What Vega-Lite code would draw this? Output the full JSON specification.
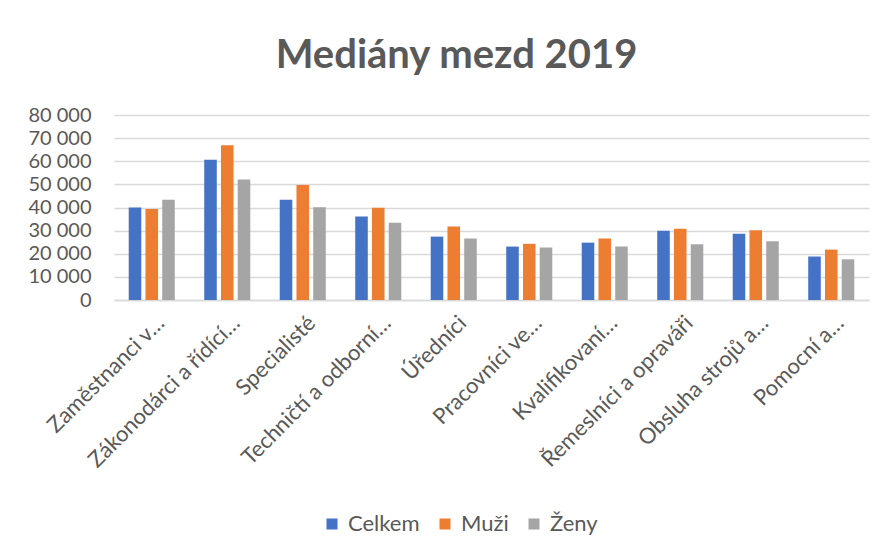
{
  "$schema": "https://vega.github.io/schema/vega-lite/v6.json",
  "autosize": {"type": "none"},
  "width": 755,
  "height": 185,
  "padding": {"left": 114, "top": 115, "right": 16, "bottom": 253},
  "background": "white",
  "config": {
    "font": "Lato",
    "view": {"stroke": null},
    "locale": {"number": {"decimal": ",", "thousands": " ", "grouping": [3], "currency": ["", " Kč"]}}
  },
  "title": {
    "text": "Mediány mezd 2019",
    "font": "Lato",
    "fontSize": 40,
    "fontWeight": "bold",
    "color": "#595959",
    "anchor": "middle",
    "baseline": "alphabetic",
    "offset": 1,
    "dy": 4,
    "dx": -35
  },
  "data": {
    "values": [
      {"kategorie": "Zaměstnanci v…", "serie": "Celkem", "hodnota": 40000},
      {"kategorie": "Zaměstnanci v…", "serie": "Muži", "hodnota": 39300},
      {"kategorie": "Zaměstnanci v…", "serie": "Ženy", "hodnota": 43300},
      {"kategorie": "Zákonodárci a řídící…", "serie": "Celkem", "hodnota": 60600},
      {"kategorie": "Zákonodárci a řídící…", "serie": "Muži", "hodnota": 66900},
      {"kategorie": "Zákonodárci a řídící…", "serie": "Ženy", "hodnota": 52100},
      {"kategorie": "Specialisté", "serie": "Celkem", "hodnota": 43300},
      {"kategorie": "Specialisté", "serie": "Muži", "hodnota": 49700},
      {"kategorie": "Specialisté", "serie": "Ženy", "hodnota": 40100},
      {"kategorie": "Techničtí a odborní…", "serie": "Celkem", "hodnota": 36100},
      {"kategorie": "Techničtí a odborní…", "serie": "Muži", "hodnota": 39900},
      {"kategorie": "Techničtí a odborní…", "serie": "Ženy", "hodnota": 33400},
      {"kategorie": "Úředníci", "serie": "Celkem", "hodnota": 27400},
      {"kategorie": "Úředníci", "serie": "Muži", "hodnota": 31800},
      {"kategorie": "Úředníci", "serie": "Ženy", "hodnota": 26600},
      {"kategorie": "Pracovníci ve…", "serie": "Celkem", "hodnota": 23100},
      {"kategorie": "Pracovníci ve…", "serie": "Muži", "hodnota": 24300},
      {"kategorie": "Pracovníci ve…", "serie": "Ženy", "hodnota": 22700},
      {"kategorie": "Kvalifikovaní…", "serie": "Celkem", "hodnota": 24800},
      {"kategorie": "Kvalifikovaní…", "serie": "Muži", "hodnota": 26600},
      {"kategorie": "Kvalifikovaní…", "serie": "Ženy", "hodnota": 23100},
      {"kategorie": "Řemeslníci a opraváři", "serie": "Celkem", "hodnota": 29900},
      {"kategorie": "Řemeslníci a opraváři", "serie": "Muži", "hodnota": 30800},
      {"kategorie": "Řemeslníci a opraváři", "serie": "Ženy", "hodnota": 24100},
      {"kategorie": "Obsluha strojů a…", "serie": "Celkem", "hodnota": 28600},
      {"kategorie": "Obsluha strojů a…", "serie": "Muži", "hodnota": 30200},
      {"kategorie": "Obsluha strojů a…", "serie": "Ženy", "hodnota": 25400},
      {"kategorie": "Pomocní a…", "serie": "Celkem", "hodnota": 18800},
      {"kategorie": "Pomocní a…", "serie": "Muži", "hodnota": 21800},
      {"kategorie": "Pomocní a…", "serie": "Ženy", "hodnota": 17600}
    ]
  },
  "mark": {"type": "bar"},
  "encoding": {
    "x": {
      "field": "kategorie",
      "type": "nominal",
      "sort": null,
      "scale": {"paddingInner": 0.39, "paddingOuter": 0.195},
      "axis": {
        "title": null,
        "labelAngle": -45,
        "labelAlign": "right",
        "labelBaseline": "top",
        "labelFontSize": 22,
        "labelColor": "#595959",
        "labelPadding": 12,
        "labelOffset": 2,
        "labelLimit": 400,
        "ticks": false,
        "domainColor": "#D9D9D9",
        "domainWidth": 1.5
      }
    },
    "xOffset": {
      "field": "serie",
      "type": "nominal",
      "sort": ["Celkem", "Muži", "Ženy"],
      "scale": {"paddingInner": 0.25, "paddingOuter": 0}
    },
    "y": {
      "field": "hodnota",
      "type": "quantitative",
      "scale": {"domain": [0, 80000], "nice": false},
      "axis": {
        "title": null,
        "values": [0, 10000, 20000, 30000, 40000, 50000, 60000, 70000, 80000],
        "format": ",d",
        "labelFontSize": 20,
        "labelColor": "#595959",
        "labelPadding": 23,
        "ticks": false,
        "domain": false,
        "gridColor": "#D9D9D9",
        "gridWidth": 1.5
      }
    },
    "color": {
      "field": "serie",
      "type": "nominal",
      "sort": ["Celkem", "Muži", "Ženy"],
      "scale": {"domain": ["Celkem", "Muži", "Ženy"], "range": ["#4472C4", "#ED7D31", "#A5A5A5"]},
      "legend": {
        "title": null,
        "orient": "none",
        "direction": "horizontal",
        "legendX": 207,
        "legendY": 398,
        "symbolType": "square",
        "symbolSize": 121,
        "symbolStrokeWidth": 0,
        "labelFontSize": 22,
        "labelColor": "#595959",
        "labelOffset": 5,
        "columnPadding": 14
      }
    }
  }
}
